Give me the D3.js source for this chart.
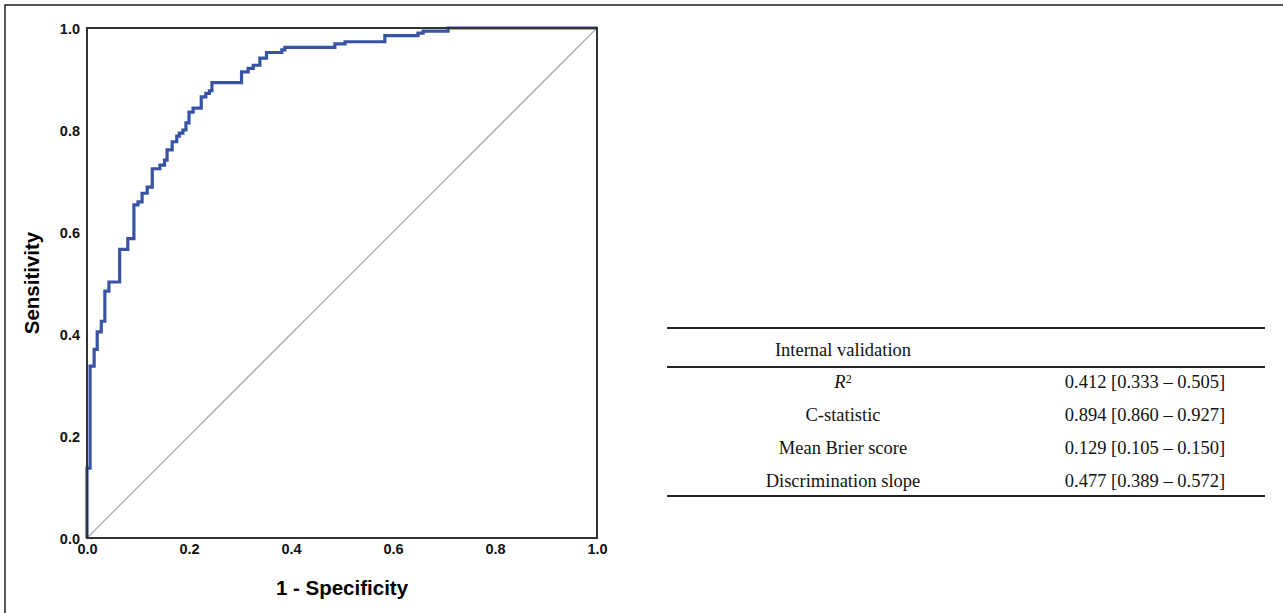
<!DOCTYPE html>
<html lang="en">
<head>
    <meta charset="UTF-8">
    <title>ROC curve</title>
    <script src="https://cdn.jsdelivr.net/npm/d3@7"></script>
    <style>
        body { margin: 0; background: #fff; }
        svg { display: block; }
        .tick text { font-family: "Liberation Sans", Arial, sans-serif; font-weight: bold; font-size: 14.5px; fill: #111; }
        .tbl { font-family: "Liberation Serif", "Times New Roman", serif; font-size: 18.5px; fill: #111; }
    </style>
</head>
<body>
<script>
    // ROC step corners (1 - specificity, sensitivity)
    const fpr = [0, 0, 0.006, 0.014, 0.020, 0.028, 0.035, 0.043, 0.064, 0.080, 0.092, 0.100, 0.108, 0.118,
        0.128, 0.143, 0.152, 0.157, 0.167, 0.176, 0.181, 0.188, 0.194, 0.200, 0.208, 0.224, 0.233, 0.240,
        0.245, 0.303, 0.316, 0.326, 0.339, 0.352, 0.382, 0.388, 0.486, 0.506, 0.584, 0.649, 0.659, 0.708, 1.0];
    const tpr = [0, 0.137, 0.337, 0.370, 0.404, 0.425, 0.484, 0.502, 0.566, 0.587, 0.653, 0.659, 0.676, 0.688,
        0.724, 0.731, 0.741, 0.761, 0.777, 0.788, 0.794, 0.800, 0.814, 0.835, 0.843, 0.865, 0.872, 0.877,
        0.893, 0.914, 0.921, 0.927, 0.941, 0.952, 0.957, 0.962, 0.969, 0.973, 0.985, 0.990, 0.994, 1.0, 1.0];
    const tickValues = [0, 0.2, 0.4, 0.6, 0.8, 1.0];

    // table
    const statNames = ["R2", "C-statistic", "Mean Brier score", "Discrimination slope"];
    const statValues = ["0.412 [0.333 \u2013 0.505]", "0.894 [0.860 \u2013 0.927]",
        "0.129 [0.105 \u2013 0.150]", "0.477 [0.389 \u2013 0.572]"];
    const tableHeader = "Internal validation";

    const W = 1283, H = 613;
    const svg = d3.select("body").append("svg").attr("width", W).attr("height", H);

    // outer frame
    svg.append("path").attr("d", `M5,${H} V5 H${W}`)
        .attr("fill", "none").attr("stroke", "#222").attr("stroke-width", 1.5);

    const x = d3.scaleLinear().domain([0, 1]).range([87, 597]);
    const y = d3.scaleLinear().domain([0, 1]).range([538, 28]);

    // reference diagonal
    svg.append("line")
        .attr("x1", x(0)).attr("y1", y(0)).attr("x2", x(1)).attr("y2", y(1))
        .attr("stroke", "#aaa").attr("stroke-width", 1.3);

    // roc curve
    const pts = fpr.map((d, i) => [d, tpr[i]]);
    svg.append("path").datum(pts)
        .attr("d", d3.line().x(d => x(d[0])).y(d => y(d[1])).curve(d3.curveStepAfter))
        .attr("fill", "none").attr("stroke", "#3953a4").attr("stroke-width", 3.2);

    // plot box
    svg.append("rect")
        .attr("x", x(0)).attr("y", y(1)).attr("width", x(1) - x(0)).attr("height", y(0) - y(1))
        .attr("fill", "none").attr("stroke", "#333").attr("stroke-width", 2);

    const fmt = d3.format(".1f");
    const gx = svg.append("g").attr("transform", `translate(0,${y(0)})`)
        .call(d3.axisBottom(x).tickValues(tickValues).tickFormat(fmt).tickSize(0).tickPadding(6));
    const gy = svg.append("g").attr("transform", `translate(${x(0)},0)`)
        .call(d3.axisLeft(y).tickValues(tickValues).tickFormat(fmt).tickSize(0).tickPadding(7));
    gx.select(".domain").remove();
    gy.select(".domain").remove();
    gy.selectAll(".tick text").attr("dy", "0.4em");

    svg.append("text")
        .attr("x", 342).attr("y", 595)
        .attr("text-anchor", "middle")
        .style("font-family", "Liberation Sans, Arial, sans-serif")
        .style("font-weight", "bold").style("font-size", "20.5px")
        .text("1 - Specificity");

    svg.append("text")
        .attr("transform", `translate(39,283) rotate(-90)`)
        .attr("text-anchor", "middle")
        .style("font-family", "Liberation Sans, Arial, sans-serif")
        .style("font-weight", "bold").style("font-size", "20.5px")
        .text("Sensitivity");

    // table
    const tx0 = 667, tx1 = 1265, colA = 843, colB = 1145;
    const rowY = d3.scalePoint().domain(statNames).range([382, 481]);
    [328, 367, 496].forEach(ly => {
        svg.append("line").attr("x1", tx0).attr("x2", tx1).attr("y1", ly).attr("y2", ly)
            .attr("stroke", "#222").attr("stroke-width", 1.8);
    });
    svg.append("text").attr("class", "tbl")
        .attr("x", colA).attr("y", 350).attr("dy", "0.35em").attr("text-anchor", "middle")
        .text(tableHeader);

    statNames.forEach((name, i) => {
        const t = svg.append("text").attr("class", "tbl")
            .attr("x", colA).attr("y", rowY(name)).attr("dy", "0.35em").attr("text-anchor", "middle");
        if (name === "R2") {
            t.append("tspan").style("font-style", "italic").text("R");
            t.append("tspan").attr("dy", "-0.45em").style("font-size", "12px").text("2");
        } else {
            t.text(name);
        }
        svg.append("text").attr("class", "tbl")
            .attr("x", colB).attr("y", rowY(name)).attr("dy", "0.35em").attr("text-anchor", "middle")
            .text(statValues[i]);
    });
</script>
</body>
</html>
